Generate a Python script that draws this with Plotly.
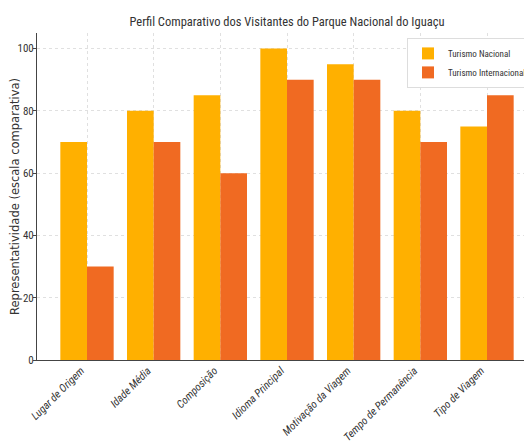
import plotly.graph_objects as go

categories = ["Lugar de Origem", "Idade Média", "Composição", "Idioma Principal",
              "Motivação da Viagem", "Tempo de Permanência", "Tipo de Viagem"]
nacional = [70, 80, 85, 100, 95, 80, 75]
internacional = [30, 70, 60, 90, 90, 70, 85]
y_ticks = [0, 20, 40, 60, 80, 100]

NARROW = "Roboto Condensed, DejaVu Sans Condensed, sans-serif"
W, H = 524, 437  # page body adds an 8px offset

fig = go.Figure()
fig.add_trace(go.Bar(x=categories, y=nacional, name="Turismo Nacional",
                     marker=dict(color="#FFB000", line=dict(width=0))))
fig.add_trace(go.Bar(x=categories, y=internacional, name="Turismo Internacional",
                     marker=dict(color="#F06A22", line=dict(width=0))))

fig.update_layout(
    width=W, height=H,
    margin=dict(l=29, r=0, t=25, b=85, autoexpand=False),
    plot_bgcolor="white", paper_bgcolor="white",
    barmode="group", bargap=0.2, bargroupgap=0,
    title=dict(text="Perfil Comparativo dos Visitantes do Parque Nacional do Iguaçu",
               x=279 / W, xanchor="center", y=1 - 14 / H, yanchor="middle",
               font=dict(family=NARROW, size=12.5, color="#333")),
    legend=dict(x=1, y=0.985, xanchor="right", yanchor="top",
                bgcolor="white", bordercolor="#dddddd", borderwidth=1,
                font=dict(family=NARROW, size=9, color="#333"),
                itemwidth=30, tracegroupgap=0),
    xaxis=dict(range=[-0.75, 6.675], showgrid=True, gridcolor="#e0e0e0", griddash="dot",
               gridwidth=1, tickangle=-45, automargin=False, ticklabelshift=-6,
               ticklabelstandoff=-1,
               tickfont=dict(family=NARROW, size=11, color="#333", style="italic"),
               showline=True, linecolor="#444", linewidth=1, ticks=""),
    yaxis=dict(range=[0, 105], tickvals=y_ticks, showgrid=True, gridcolor="#e0e0e0",
               griddash="dot", gridwidth=1, zeroline=False, automargin=False,
               ticklabelstandoff=-3,
               tickfont=dict(family=NARROW, size=11, color="#333"),
               showline=True, linecolor="#444", linewidth=1, ticks="outside", ticklen=3,
               tickcolor="#444",
               title=dict(text="Representatividade (escala comparativa)", standoff=3,
                          font=dict(family="DejaVu Sans", size=11.5, color="#333"))),
)

fig.write_html("out.html")
